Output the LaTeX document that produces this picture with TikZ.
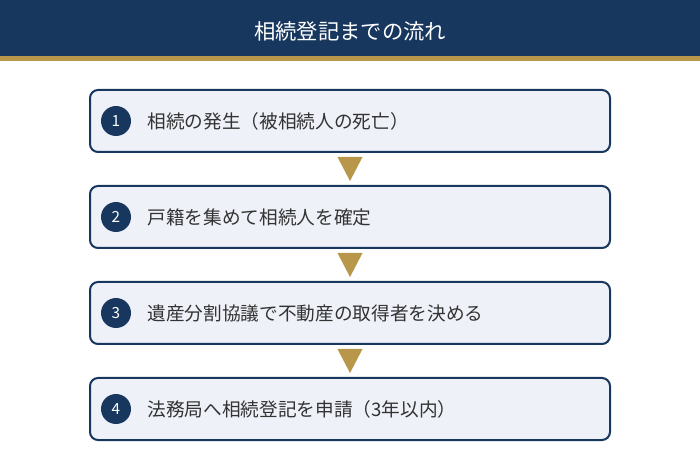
\documentclass[tikz,border=0pt]{standalone}
\usepackage{fontspec}
\setmainfont{Noto Sans CJK JP}
\usetikzlibrary{positioning,calc}
\definecolor{navy}{HTML}{17375E}
\definecolor{gold}{HTML}{B8974A}
\definecolor{boxfill}{HTML}{EEF1F8}
\definecolor{txt}{HTML}{333333}
\tikzset{
	stepbox/.style={draw=navy, line width=1.5pt, fill=boxfill, rounded corners=6pt,
		minimum width=390pt, minimum height=46.5pt, inner sep=0pt},
	num/.style={circle, fill=navy, text=white, minimum size=22.5pt, inner sep=0pt,
		font=\fontsize{11.5pt}{13pt}\selectfont},
	steptext/.style={anchor=west, text=txt, inner sep=0pt,
		font=\fontsize{14pt}{16pt}\selectfont},
	arrowtri/.style={fill=gold}
}
\begin{document}
\begin{tikzpicture}[x=0.75pt, y=-0.75pt]
	\useasboundingbox (0,0) rectangle (700,470);
	% header
	\fill[navy] (0,0) rectangle (700,56);
	\fill[gold] (0,56) rectangle (700,61);
	\node[text=white, font=\fontsize{16pt}{18pt}\selectfont] (title) at (350,31) {相続登記までの流れ};
	% steps
	\node[stepbox] (s1) at (350,121) {};
	\node[stepbox] (s2) at (350,217) {};
	\node[stepbox] (s3) at (350,313) {};
	\node[stepbox] (s4) at (350,409) {};
	\node[num] (n1) at ($(s1.west)+(27,0)$) {1};
	\node[num] (n2) at ($(s2.west)+(27,0)$) {2};
	\node[num] (n3) at ($(s3.west)+(27,0)$) {3};
	\node[num] (n4) at ($(s4.west)+(27,0)$) {4};
	\node[steptext, right=12pt of n1] (t1) {相続の発生（被相続人の死亡）};
	\node[steptext, right=12pt of n2] (t2) {戸籍を集めて相続人を確定};
	\node[steptext, right=12pt of n3] (t3) {遺産分割協議で不動産の取得者を決める};
	\node[steptext, right=12pt of n4] (t4) {法務局へ相続登記を申請（3年以内）};
	% arrows between steps
	\fill[arrowtri] ($(s1.south)+(-12.5,4)$) -- ($(s1.south)+(12.5,4)$) -- ($(s2.north)+(0,-4)$) -- cycle;
	\fill[arrowtri] ($(s2.south)+(-12.5,4)$) -- ($(s2.south)+(12.5,4)$) -- ($(s3.north)+(0,-4)$) -- cycle;
	\fill[arrowtri] ($(s3.south)+(-12.5,4)$) -- ($(s3.south)+(12.5,4)$) -- ($(s4.north)+(0,-4)$) -- cycle;
\end{tikzpicture}
\end{document}
